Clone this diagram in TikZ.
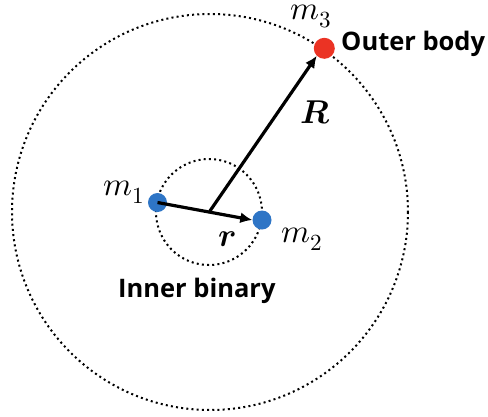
\documentclass[tikz,border=0pt]{standalone}
\usepackage{fontspec}
\usepackage{unicode-math}
\setmathfont{Latin Modern Math}
\newfontfamily\labelfont{Open Sans}
\usetikzlibrary{arrows.meta,calc}
\definecolor{dotblue}{RGB}{46,117,198}
\definecolor{dotred}{RGB}{235,51,36}
\tikzset{
  orbit/.style={line width=2pt, dash pattern=on 2pt off 3.2pt},
  vec/.style={line width=3.2pt, -{Latex[length=12pt,width=11pt]}},
  mass/.style={circle, inner sep=0pt, minimum size=#1},
  lbl/.style={inner sep=0pt, anchor=base west, font=\fontsize{33}{36}\selectfont},
  txt/.style={inner sep=0pt, anchor=base west, font=\labelfont\bfseries\fontsize{25.5}{28}\selectfont},
}
\begin{document}
\begin{tikzpicture}[x=1pt,y=-1pt]
\useasboundingbox (0,0) rectangle (488,416);
\coordinate (c) at (210,212);
\draw[orbit] (c) circle (198);
\draw[orbit] (209,212) circle (53);
\node[mass=19pt, fill=dotblue] (m1) at (157.5,202.5) {};
\node[mass=19pt, fill=dotblue] (m2) at (262,220) {};
\node[mass=21pt, fill=dotred] (m3) at (324.3,48.3) {};
\coordinate (mid) at ($(m1)!0.5!(m2)$);
\draw[vec] (m1.center) -- (m2.west);
\draw[vec] (mid) -- (m3.south west);
\node[lbl] (l1) at (103,195) {$m_1$};
\node[lbl] (l2) at (281,242) {$m_2$};
\node[lbl] (l3) at (290,19.5) {$m_3$};
\node[lbl] (lR) at (300,123) {$\symbfit{R}$};
\node[lbl] (lr) at (218,246) {$\symbfit{r}$};
\node[txt] (outer) at (341,50) {Outer body};
\node[txt] (inner) at (118,297) {Inner binary};
\end{tikzpicture}
\end{document}
